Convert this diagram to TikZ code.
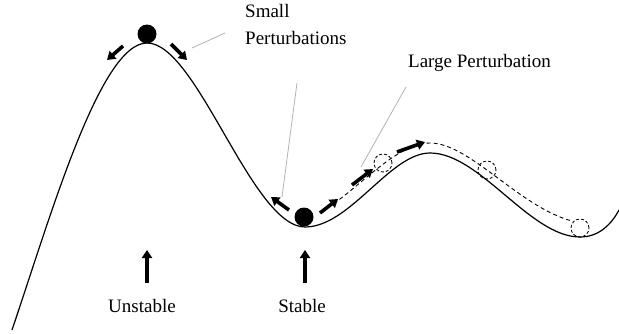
\documentclass[tikz,border=0pt]{standalone}
\usepackage{fontspec}
\setmainfont{Liberation Serif}
\usetikzlibrary{arrows.meta}
\begin{document}
\begin{tikzpicture}[x=1pt,y=1pt,
  lbl/.style={font=\fontsize{19}{22}\selectfont, inner sep=0pt},
  ball/.style={circle, fill=black, minimum size=19pt, inner sep=0pt},
  ghost/.style={circle, draw, dash pattern=on 3pt off 2pt, line width=0.8pt, minimum size=18pt, inner sep=0pt},
  bigarrow/.style={-{Triangle[length=8pt,width=10pt]}, line width=3.6pt},
  leader/.style={draw=black!30, line width=0.8pt},
  curve/.style={line width=1.2pt},
  dashpath/.style={dash pattern=on 4pt off 3pt, line width=0.9pt}]
\useasboundingbox (0,0) rectangle (619,333);
% landscape
\draw[curve] (12,3) .. controls (50,115) and (100,290) .. (147,290)
  .. controls (197,290) and (252,106) .. (305,106)
  .. controls (350,106) and (390,180) .. (430,180)
  .. controls (480,180) and (530,96) .. (580,96)
  .. controls (600,96) and (612,110) .. (619,123);
% balls
\node[ball] (top) at (147,299) {};
\node[ball] (bottom) at (304,116) {};
% ghost balls
\node[ghost] (g1) at (383,170) {};
\node[ghost] (g2) at (487,163) {};
\node[ghost] (g3) at (580,105) {};
% dashed path
\draw[dashpath] (322,122) .. controls (355,140) and (395,190) .. (430,190)
  .. controls (470,190) and (520,125) .. (g3.north west);
% arrows at the top
\coordinate (tl1) at (123,287); \coordinate (tl2) at (107,273);
\coordinate (tr1) at (171,289); \coordinate (tr2) at (187,273);
\draw[bigarrow] (tl1) -- (tl2);
\draw[bigarrow] (tr1) -- (tr2);
% arrows at the valley
\coordinate (vl1) at (289,123); \coordinate (vl2) at (271,136);
\coordinate (a1s) at (320,120); \coordinate (a1e) at (338,134);
\coordinate (a2s) at (352,148); \coordinate (a2e) at (373,164);
\coordinate (a3s) at (397,181); \coordinate (a3e) at (425,191);
\draw[bigarrow] (vl1) -- (vl2);
\draw[bigarrow] (a1s) -- (a1e);
\draw[bigarrow] (a2s) -- (a2e);
\draw[bigarrow] (a3s) -- (a3e);
% up arrows
\coordinate (u1s) at (147,50); \coordinate (u1e) at (147,83);
\coordinate (u2s) at (305,50); \coordinate (u2e) at (305,83);
\draw[bigarrow] (u1s) -- (u1e);
\draw[bigarrow] (u2s) -- (u2e);
% labels
\node[lbl, anchor=base] (unstable) at (142,21) {Unstable};
\node[lbl, anchor=base] (stable) at (302,21) {Stable};
\node[lbl, anchor=base west] (small) at (245,316) {Small};
\node[lbl, anchor=base west] (smallp) at (245,288) {Perturbations};
\node[lbl, anchor=base west] (large) at (408,266) {Large Perturbation};
% leader lines
\coordinate (ls1) at (225,300); \coordinate (ls2) at (192,285);
\coordinate (lv1) at (297,250); \coordinate (lv2) at (282,136);
\coordinate (ll1) at (406,246); \coordinate (ll2) at (361,166);
\draw[leader] (ls1) -- (ls2);
\draw[leader] (lv1) -- (lv2);
\draw[leader] (ll1) -- (ll2);
\end{tikzpicture}
\end{document}
